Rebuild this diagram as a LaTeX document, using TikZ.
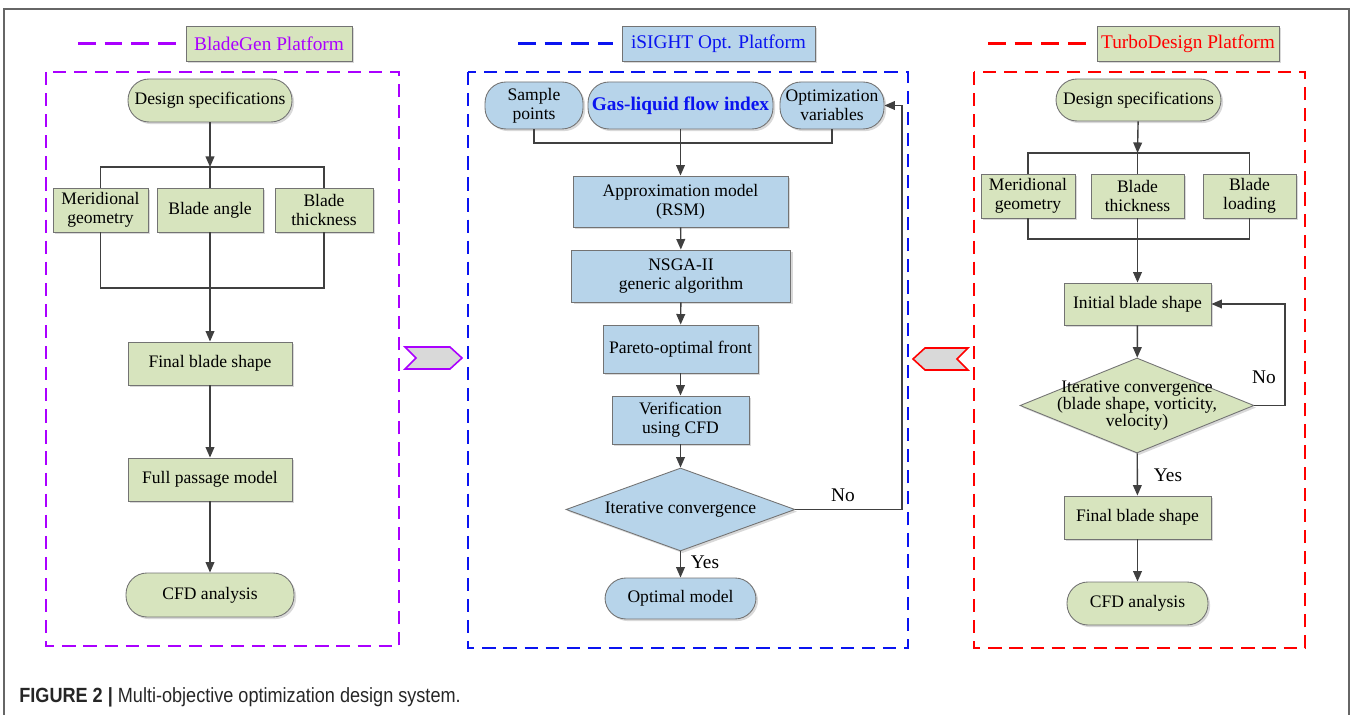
\documentclass[tikz,border=0pt]{standalone}
\usepackage{fontspec}
\setmainfont{Liberation Serif}
\newfontfamily\capfont[FakeStretch=0.88]{Liberation Sans}
\usepackage{xcolor}
\usepackage{tikz}
\usetikzlibrary{arrows.meta,shapes.geometric,shadows}

\definecolor{bgfill}{RGB}{215,228,190}
\definecolor{blfill}{RGB}{183,212,234}
\definecolor{bgpurple}{RGB}{170,0,255}
\definecolor{bgblue}{RGB}{10,20,240}
\definecolor{bgred}{RGB}{255,0,0}

\begin{document}
\begin{tikzpicture}
                \tikzset{x={(0.02cm, 0cm)}, y={(0cm, -0.02cm)}}
                \tikzset{every node/.style={font=\rmfamily\fontsize{10}{11}\selectfont, align=center, inner sep=0pt},
                         gbox/.style={draw=black!55, line width=0.5pt, fill=bgfill,
                                      drop shadow={shadow xshift=1.2pt, shadow yshift=-1.2pt, opacity=0.3, fill=black!50}},
                         bbox/.style={gbox, fill=blfill},
                         pill/.style={rounded corners=0.42cm},
                         hdr/.style={font=\rmfamily\fontsize{11}{12}\selectfont, minimum height=0.7cm},
                         lbl/.style={font=\rmfamily\fontsize{11}{12}\selectfont},
                         diam/.style={diamond, aspect=2.76},
                         conn/.style={draw=black!75, line width=0.8pt},
                         arr/.style={conn, -{Triangle[length=6pt, width=5pt]}},
                         pnl/.style={line width=1.2pt, dash pattern=on 7.5pt off 4.5pt},
                         hdash/.style={line width=1.8pt, dash pattern=on 10pt off 5.2pt},
                         chev/.style={line width=0.9pt, fill=black!15}}
                \useasboundingbox (0, 0) rectangle (1352, 715);
                % outer frame
                \draw[black!60, line width=0.6pt] (4, 715) -- (4, 9) -- (1349, 9) -- (1349, 715);

                % BladeGen
                \draw[pnl, bgpurple] (46, 72) rectangle (399, 646);
                \draw[hdash, bgpurple] (78, 43.5) -- (177, 43.5);
                \node[gbox, hdr, minimum width=3.32cm, text=bgpurple] (lhead) at (269, 43.5) {BladeGen Platform};
                \node[gbox, pill, minimum width=3.28cm, minimum height=0.86cm] (lspec) at (210, 100.5) {Design specifications};
                \node[gbox, minimum width=1.9cm, minimum height=0.88cm] (lmer) at (100.5, 210) {Meridional\\geometry};
                \node[gbox, minimum width=2.12cm, minimum height=0.88cm] (lang) at (210, 210) {Blade angle};
                \node[gbox, minimum width=1.96cm, minimum height=0.88cm] (lthk) at (324, 210) {Blade\\thickness};
                \node[gbox, minimum width=3.28cm, minimum height=0.86cm] (lfinal) at (210, 363.5) {Final blade shape};
                \node[gbox, minimum width=3.28cm, minimum height=0.86cm] (lfull) at (210, 479.5) {Full passage model};
                \node[gbox, pill, minimum width=3.36cm, minimum height=0.88cm] (lcfd) at (210, 595) {CFD analysis};
                \coordinate (ltop) at (210, 167);
                \coordinate (lbot) at (210, 288);
                \draw[arr] (lspec) -- (ltop);
                \draw[conn] (lmer.north) |- (ltop) -| (lthk.north);
                \draw[conn] (ltop) -- (lang.north);
                \draw[conn] (lmer.south) |- (lbot) -| (lthk.south);
                \draw[arr] (lang.south) -- (lfinal.north);
                \draw[arr] (lfinal) -- (lfull);
                \draw[arr] (lfull) -- (lcfd);
                \draw[chev, draw=bgpurple] (405, 347) -- (450, 347) -- (462, 358) -- (450, 369) -- (405, 369) -- (416, 358) -- cycle;

                % iSIGHT
                \draw[pnl, bgblue] (468, 72) rectangle (908, 648);
                \draw[hdash, bgblue] (518, 43.5) -- (613, 43.5);
                \node[bbox, hdr, minimum width=3.86cm, text=bgblue] (mhead) at (718.5, 43.5) {iSIGHT Opt. Platform};
                \node[bbox, pill, minimum width=1.96cm, minimum height=0.94cm] (msamp) at (534, 105.5) {Sample\\points};
                \node[bbox, pill, minimum width=3.7cm, minimum height=0.94cm, text=bgblue,
                      font=\rmfamily\fontsize{11}{12}\selectfont\bfseries] (mgas) at (680.5, 105.5) {Gas-liquid flow index};
                \node[bbox, pill, minimum width=2.08cm, minimum height=0.94cm] (mopt) at (832, 105.5) {Optimization\\variables};
                \node[bbox, minimum width=4.3cm, minimum height=1.02cm] (mapprox) at (680.5, 201.5) {Approximation model\\(RSM)};
                \node[bbox, minimum width=4.38cm, minimum height=1.04cm] (mnsga) at (681, 276) {NSGA-II\\generic algorithm};
                \node[bbox, minimum width=3.1cm, minimum height=0.96cm] (mpareto) at (680.5, 349) {Pareto-optimal front};
                \node[bbox, minimum width=2.74cm, minimum height=0.96cm] (mverif) at (680.5, 420) {Verification\\using CFD};
                \node[bbox, diam, minimum width=4.58cm, minimum height=1.66cm] (mdiam) at (680.5, 509.5) {Iterative convergence};
                \node[bbox, pill, minimum width=3.02cm, minimum height=0.82cm] (mopti) at (680.5, 598.5) {Optimal model};
                \coordinate (mbus) at (680.5, 143);
                \coordinate (mback) at (902, 0);
                \draw[conn] (msamp.south) |- (mbus) -| (mopt.south);
                \draw[arr] (mgas) -- (mapprox);
                \draw[arr] (mapprox) -- (mnsga);
                \draw[arr] (mnsga) -- (mpareto);
                \draw[arr] (mpareto) -- (mverif);
                \draw[arr] (mverif) -- (mdiam);
                \draw[arr] (mdiam) -- (mopti);
                \draw[arr] (mdiam.east) -- (mdiam.east -| mback) |- (mopt.east);
                \node[lbl] (mno) at (843, 495) {No};
                \node[lbl] (myes) at (705, 562) {Yes};

                % TurboDesign
                \draw[pnl, bgred] (974, 72) rectangle (1305, 648);
                \draw[hdash, bgred] (988, 43.5) -- (1088, 43.5);
                \node[gbox, hdr, minimum width=3.64cm, text=bgred] (rhead) at (1188, 43.5) {TurboDesign Platform};
                \node[gbox, pill, minimum width=3.3cm, minimum height=0.84cm] (rspec) at (1138.5, 100) {Design specifications};
                \node[gbox, minimum width=1.88cm, minimum height=0.88cm] (rmer) at (1028, 196) {Meridional\\geometry};
                \node[gbox, minimum width=1.86cm, minimum height=0.88cm] (rthk) at (1137.5, 196) {Blade\\thickness};
                \node[gbox, minimum width=1.86cm, minimum height=0.88cm] (rload) at (1249.5, 196) {Blade\\loading};
                \node[gbox, minimum width=2.94cm, minimum height=0.84cm] (rinit) at (1137.5, 304) {Initial blade shape};
                \node[gbox, diam, aspect=2.46, minimum width=4.68cm, minimum height=1.9cm,
                      label={[font=\rmfamily\fontsize{10}{9.5}\selectfont, align=center]center:Iterative convergence\\(blade shape, vorticity,\\velocity)}] (rdiam) at (1137, 405.5) {};
                \node[gbox, minimum width=2.94cm, minimum height=0.86cm] (rfinal) at (1137.5, 517.5) {Final blade shape};
                \node[gbox, pill, minimum width=2.82cm, minimum height=0.86cm] (rcfd) at (1137.5, 603.5) {CFD analysis};
                \coordinate (rtop) at (1137.5, 153);
                \coordinate (rbot) at (1137.5, 239);
                \coordinate (rback) at (1285, 0);
                \draw[arr] (rspec) -- (rtop);
                \draw[conn] (rmer.north) |- (rtop) -| (rload.north);
                \draw[conn] (rtop) -- (rthk.north);
                \draw[conn] (rmer.south) |- (rbot) -| (rload.south);
                \draw[arr] (rthk.south) -- (rinit.north);
                \draw[arr] (rinit) -- (rdiam);
                \draw[arr] (rdiam.east) -- (rdiam.east -| rback) |- (rinit.east);
                \draw[arr] (rdiam) -- (rfinal);
                \draw[arr] (rfinal) -- (rcfd);
                \node[lbl] (rno) at (1264, 377) {No};
                \node[lbl] (ryes) at (1168, 475) {Yes};
                \draw[chev, draw=bgred] (913, 359) -- (925, 348) -- (968, 348) -- (957, 359) -- (968, 370) -- (925, 370) -- cycle;

                % caption
                \node[anchor=west, text=black!85, font=\capfont\fontsize{11.7}{13}\selectfont] (cap) at (19, 697)
                    {\textbf{FIGURE 2 |} Multi-objective optimization design system.};
            \end{tikzpicture}
\end{document}
